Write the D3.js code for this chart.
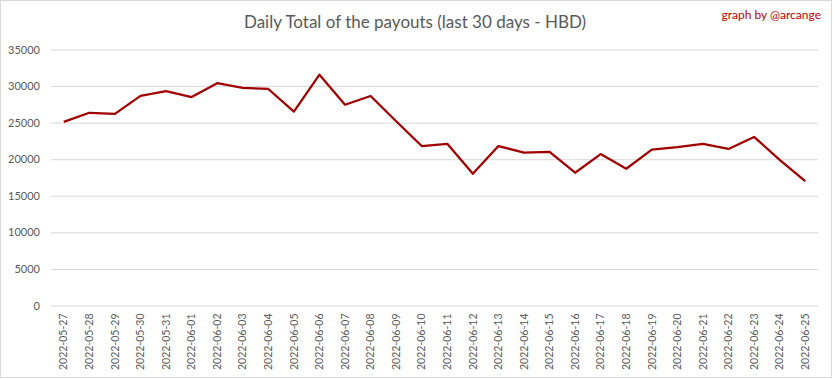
<!DOCTYPE html>
<html><head><meta charset="utf-8">
<script src="https://cdn.jsdelivr.net/npm/d3@7"></script>
<style>body{margin:0;background:#fff;} svg{display:block;}</style>
</head><body>
<svg id="c" width="833" height="379"></svg>
<script>
const dates = ["2022-05-27","2022-05-28","2022-05-29","2022-05-30","2022-05-31","2022-06-01","2022-06-02","2022-06-03","2022-06-04","2022-06-05","2022-06-06","2022-06-07","2022-06-08","2022-06-09","2022-06-10","2022-06-11","2022-06-12","2022-06-13","2022-06-14","2022-06-15","2022-06-16","2022-06-17","2022-06-18","2022-06-19","2022-06-20","2022-06-21","2022-06-22","2022-06-23","2022-06-24","2022-06-25"];
const payouts = [25100,26350,26200,28650,29300,28500,30400,29750,29600,26500,31550,27450,28650,25200,21800,22100,18000,21800,20900,21000,18150,20700,18700,21300,21650,22100,21400,23050,19900,17000];
const yTicks = [0,5000,10000,15000,20000,25000,30000,35000];
const titleText = "Daily Total of the payouts (last 30 days - HBD)";
const creditText = "graph by @arcange";

const svg = d3.select("#c");
const font = "Lato, 'Open Sans', sans-serif";
const m = {left:51, right:818, top:49.5, bottom:305.5};

svg.append("rect").attr("x",0.5).attr("y",0.5).attr("width",831).attr("height",377)
  .attr("fill","#fff").attr("stroke","#d9d9d9");

const x = d3.scaleBand().domain(dates).range([m.left, m.right]);
const y = d3.scaleLinear().domain([0,35000]).range([m.bottom, m.top]);

// gridlines
const gy = svg.append("g").attr("transform",`translate(${m.left},0)`)
  .call(d3.axisLeft(y).tickValues(yTicks).tickSize(-(m.right-m.left)).tickFormat(d=>d).tickPadding(11));
gy.select(".domain").remove();
gy.selectAll(".tick line").attr("stroke","#d9d9d9").attr("stroke-width",1);
gy.selectAll(".tick text").attr("fill","#595959").style("font-family",font).style("font-size","11px");

// x axis
const gx = svg.append("g").attr("transform",`translate(0,${m.bottom})`)
  .call(d3.axisBottom(x).tickSize(0).tickPadding(0));
gx.select(".domain").remove();
gx.selectAll(".tick text").attr("fill","#595959").style("font-family",font).style("font-size","10.5px")
  .attr("transform","rotate(-90)").attr("text-anchor","end").attr("x",-8).attr("y",0).attr("dy","0.35em");

// line
const line = d3.line().x((d,i)=>x(dates[i])+x.bandwidth()/2).y(d=>y(d));
svg.append("path").datum(payouts).attr("d",line).attr("fill","none")
  .attr("stroke","#a00000").attr("stroke-width",2.25).attr("stroke-linejoin","round");

svg.append("text").attr("x",415).attr("y",28).attr("text-anchor","middle")
  .attr("fill","#595959").style("font-family",font).style("font-size","17px").text(titleText);
svg.append("text").attr("x",821).attr("y",19).attr("text-anchor","end")
  .attr("fill","#c00000").style("font-family",font).style("font-size","12px").text(creditText);
</script>
</body></html>
